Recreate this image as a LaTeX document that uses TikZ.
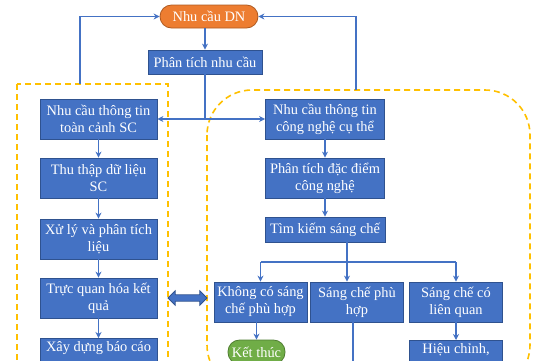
\documentclass[tikz,border=0pt]{standalone}
\usepackage{fontspec}
\setmainfont{Liberation Serif}
\usetikzlibrary{arrows.meta,shapes.arrows,calc}
\definecolor{boxblue}{HTML}{4472C4}
\definecolor{boxline}{HTML}{2F528F}
\definecolor{dnorange}{HTML}{ED7D31}
\definecolor{dnline}{HTML}{AE5A21}
\definecolor{endgreen}{HTML}{70AD47}
\definecolor{endline}{HTML}{507E32}
\definecolor{zonegold}{HTML}{FFC000}
\newcommand{\boxfont}{\fontsize{14.4}{17}\selectfont}
\tikzset{
  box/.style={
    draw=boxline,
    line width=0.8pt,
    fill=boxblue,
    text=white,
    align=center,
    inner sep=1pt,
    font=\boxfont
  },
  wide/.style={box, minimum width=117, minimum height=40},
  small/.style={box, minimum width=93, minimum height=40},
  pill/.style={
    rounded corners=11.5,
    line width=0.8pt,
    text=white,
    align=center,
    font=\boxfont
  },
  zone/.style={
    draw=zonegold,
    line width=1.6pt,
    dash pattern=on 6pt off 4pt
  },
  arr/.style={
    draw=boxblue,
    line width=1.3pt,
    -{Stealth[length=6pt,width=6pt]}
  },
  link/.style={
    draw=boxblue,
    line width=1.3pt
  },
  dblarrow/.style={
    shape=double arrow,
    draw=boxline,
    fill=boxblue,
    line width=0.8pt,
    minimum height=39,
    inner sep=2.8pt,
    double arrow head extend=4pt
  }
}

\begin{document}
\begin{tikzpicture}[x=1pt,y=-1pt]
  \useasboundingbox (0,0) rectangle (540,360);
  \clip (0,0) rectangle (540,360);

  % dashed zones
  \draw[zone] (17,84) rectangle (168,375);
  \draw[zone, rounded corners=45] (207,90) rectangle (530,390);

  % top
  \node[pill, fill=dnorange, draw=dnline, minimum width=98, minimum height=23] (dn) at (209,16.5) {Nhu cầu DN};
  \node[box, minimum width=114, minimum height=24] (pt) at (205,62) {Phân tích nhu cầu};

  % left column
  \node[wide] (nl1) at (98.5,119) {Nhu cầu thông tin\\toàn cảnh SC};
  \node[wide] (nl2) at (98.5,178) {Thu thập dữ liệu\\SC};
  \node[wide] (nl3) at (98.5,239) {Xử lý và phân tích\\liệu};
  \node[wide] (nl4) at (98.5,298) {Trực quan hóa kết\\quả};
  \node[wide, minimum height=0, anchor=north, inner ysep=3pt, text depth=30pt] (nl5) at (98.5,338) {Xây dựng báo cáo};

  % right column
  \node[wide, minimum width=119] (nr1) at (325,119) {Nhu cầu thông tin\\công nghệ cụ thể};
  \node[wide, minimum width=119] (nr2) at (325,178) {Phân tích đặc điểm\\công nghệ};
  \node[box, minimum width=120, minimum height=25] (tk) at (325,229.5) {Tìm kiếm sáng chế};
  \node[small] (kc) at (260.5,302) {Không có sáng\\chế phù hợp};
  \node[small] (sp) at (357,302) {Sáng chế phù\\hợp};
  \node[small] (lq) at (456,302) {Sáng chế có\\liên quan};
  \node[pill, fill=endgreen, draw=endline, minimum width=57, minimum height=24] (kt) at (256.5,352) {Kết thúc};
  \node[small, minimum height=0, anchor=north, inner ysep=3pt, text depth=30pt] (hc) at (456,340) {Hiệu chỉnh,};

  \node[dblarrow] (lr) at (187.5,298) {};

  \coordinate (fbl) at (80,84);
  \coordinate (fbr) at (356,90);
  \coordinate (br) at (347,262);
  \coordinate (spend) at (353,380);

  % connectors
  \draw[arr] (pt.north |- dn.south) -- (pt.north);
  \draw[link] (pt.south) -- (pt.south |- nl1.east);
  \draw[arr] (pt.south |- nl1.east) -- (nl1.east);
  \draw[arr] (pt.south |- nr1.west) -- (nr1.west);
  \draw[arr] (fbl) |- (dn.west);
  \draw[arr] (fbr) |- (dn.east);
  \draw[arr] (nl1) -- (nl2);
  \draw[arr] (nl2) -- (nl3);
  \draw[arr] (nl3) -- (nl4);
  \draw[arr] (nl4) -- (nl5);
  \draw[arr] (nr1) -- (nr2);
  \draw[arr] (nr2) -- (tk);
  \draw[link] (tk.south -| br) -- (br);
  \draw[link] (br -| kc.north) -- (br -| lq.north);
  \draw[arr] (br -| kc.north) -- (kc.north);
  \draw[arr] (br) -- (br |- sp.north);
  \draw[arr] (br -| lq.north) -- (lq.north);
  \draw[arr] (kt.north |- kc.south) -- (kt.north);
  \draw[link] (spend |- sp.south) -- (spend);
  \draw[arr] (lq) -- (hc);
\end{tikzpicture}
\end{document}
